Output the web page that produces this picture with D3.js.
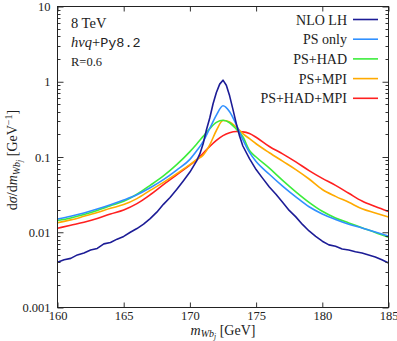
<!DOCTYPE html>
<html>
<head>
<meta charset="utf-8">
<script src="https://cdn.jsdelivr.net/npm/d3@7"></script>
<style>
  body { margin: 0; background: #fff; }
  svg text { font-family: 'Liberation Serif', 'DejaVu Serif', serif; fill: #222; }
</style>
</head>
<body>
<div id="chart"></div>
<script>
const width = 397, height = 341;
const margin = {top: 6.5, right: 8.5, bottom: 33.5, left: 57.5};
const SERIF = "'Liberation Serif', 'DejaVu Serif', serif";

// m_Wbj grid for the shower curves (GeV)
const mass = [160, 161, 162, 163, 164, 165, 166, 167, 168, 169, 170, 170.5, 171, 171.5, 172, 172.5,
              173, 173.5, 174, 174.5, 175, 176, 177, 178, 179, 180, 181, 182, 183, 184, 185];

const psOnly = [.0150, .0163, .0180, .0203, .0232, .0268, .0315, .0390, .0500, .0670, .0930, .120, .160, .240, .360, .480,
                .400, .270, .170, .115, .087, .059, .041, .0295, .0218, .0175, .0148, .0128, .0114, .0101, .0089];
const psHad = [.0143, .0155, .0172, .0195, .0225, .0258, .0320, .0420, .0560, .0790, .118, .148, .188, .238, .288, .308,
               .285, .235, .186, .122, .100, .071, .049, .0345, .0250, .0190, .0155, .0133, .0115, .0099, .0086];
const psMpi = [.0134, .0146, .0163, .0183, .0208, .0233, .0280, .0360, .0460, .0600, .0790, .0920, .106, .145, .225, .305,
               .292, .250, .205, .175, .150, .114, .088, .068, .051, .037, .030, .025, .0205, .018, .0159];
const psHadMpi = [.0113, .0124, .0136, .0152, .0175, .0198, .0240, .0315, .0430, .0580, .0780, .0910, .112, .138, .166, .192,
                  .210, .218, .216, .205, .183, .138, .110, .086, .066, .052, .042, .033, .026, .022, .0189];

// NLO LH has a finer (noisy) binning
const nloMass = [160, 160.5, 161, 161.5, 162, 162.5, 163, 163.5, 164, 164.5, 165, 165.5, 166, 166.5, 167, 167.5,
                 168, 168.5, 169, 169.5, 170, 170.5, 170.75, 171, 171.25, 171.5, 171.75, 172, 172.25, 172.5, 172.75,
                 173, 173.25, 173.5, 173.75, 174, 174.5, 175, 175.5, 176, 176.5, 177, 177.5, 178, 178.5, 179, 179.5,
                 180, 180.5, 181, 181.5, 182, 182.5, 183, 183.5, 184, 184.5, 185];
const nloLH = [.0040, .0043, .0045, .0050, .0053, .0058, .0061, .0070, .0073, .0081, .0088, .0100, .0112, .0128, .0152, .0185,
               .0235, .029, .037, .048, .063, .088, .110, .150, .230, .330, .510, .720, .930, 1.05, .900,
               .650, .430, .280, .190, .140, .095, .068, .052, .040, .032, .025, .0195, .016, .0127, .0104, .0088,
               .0076, .0068, .0065, .0060, .0058, .0055, .0053, .0050, .0047, .0043, .0039];

const seriesNames = ["NLO LH", "PS only", "PS+HAD", "PS+MPI", "PS+HAD+MPI"];
const seriesColors = ["#1c1c96", "#3090ff", "#3cec3c", "#ffaa00", "#ff2020"];

const xTicks = [160, 165, 170, 175, 180, 185];
const yTicks = [0.001, 0.01, 0.1, 1, 10];

let svg = d3.select("#chart")
    .append("svg")
    .attr("width", width)
    .attr("height", height)
    .attr("font-family", SERIF);

let x = d3.scaleLinear()
    .domain([160, 185])
    .range([margin.left, width - margin.right]);

let y = d3.scaleLog()
    .domain([0.001, 10])
    .range([height - margin.bottom, margin.top]);

// curves
let series = [
    {name: seriesNames[0], xs: nloMass, ys: nloLH, curve: d3.curveLinear},
    {name: seriesNames[1], xs: mass, ys: psOnly, curve: d3.curveMonotoneX},
    {name: seriesNames[2], xs: mass, ys: psHad, curve: d3.curveMonotoneX},
    {name: seriesNames[3], xs: mass, ys: psMpi, curve: d3.curveMonotoneX},
    {name: seriesNames[4], xs: mass, ys: psHadMpi, curve: d3.curveMonotoneX}
];

let plot = svg.append("g");
series.slice().reverse().forEach(function(s) {
    let i = seriesNames.indexOf(s.name);
    let line = d3.line()
        .x((d, k) => x(s.xs[k]))
        .y(d => y(d))
        .curve(s.curve);
    plot.append("path")
        .attr("d", line(s.ys))
        .attr("fill", "none")
        .attr("stroke", seriesColors[i])
        .attr("stroke-width", 1.6)
        .attr("stroke-linejoin", "round");
});

// axes (ticks point inward)
let bottomAxis = svg.append("g")
    .attr("transform", `translate(0, ${height - margin.bottom})`)
    .call(d3.axisBottom(x).tickValues(xTicks).tickSize(-5).tickPadding(4).tickFormat(d3.format("d")));
let topAxis = svg.append("g")
    .attr("transform", `translate(0, ${margin.top})`)
    .call(d3.axisTop(x).tickValues(xTicks).tickSize(-5).tickFormat(""));
let leftAxis = svg.append("g")
    .attr("transform", `translate(${margin.left}, 0)`)
    .call(d3.axisLeft(y).tickValues(yTicks).tickSize(-6).tickPadding(7)
        .tickFormat(d => d >= 1 ? d3.format("d")(d) : String(d)));
let rightAxis = svg.append("g")
    .attr("transform", `translate(${width - margin.right}, 0)`)
    .call(d3.axisRight(y).tickValues(yTicks).tickSize(-6).tickFormat(""));

[bottomAxis, topAxis, leftAxis, rightAxis].forEach(function(a) {
    a.attr("font-family", SERIF).attr("font-size", 12.5);
    a.select(".domain").remove();
    a.selectAll("line").attr("stroke", "#333");
    a.selectAll("text").attr("fill", "#222");
});

// minor log ticks
let minor = [];
for (let e = -3; e < 1; e++) {
    for (let m = 2; m <= 9; m++) minor.push(m * Math.pow(10, e));
}
svg.append("g").selectAll("line").data(minor).enter().append("line")
    .attr("x1", margin.left).attr("x2", margin.left + 3)
    .attr("y1", d => Math.round(y(d)) + 0.5).attr("y2", d => Math.round(y(d)) + 0.5)
    .attr("stroke", "#333");
svg.append("g").selectAll("line").data(minor).enter().append("line")
    .attr("x1", width - margin.right).attr("x2", width - margin.right - 3)
    .attr("y1", d => Math.round(y(d)) + 0.5).attr("y2", d => Math.round(y(d)) + 0.5)
    .attr("stroke", "#333");

// frame
svg.append("rect")
    .attr("x", margin.left)
    .attr("y", margin.top)
    .attr("width", width - margin.left - margin.right)
    .attr("height", height - margin.top - margin.bottom)
    .attr("fill", "none")
    .attr("stroke", "#222")
    .attr("stroke-width", 1);

// legend
let legend = svg.append("g");
seriesNames.forEach(function(name, i) {
    let ly = 19.5 + i * 19.7;
    legend.append("text")
        .attr("x", 347)
        .attr("y", ly + 5)
        .style("text-anchor", "end")
        .style("font-size", "14px")
        .text(name);
    legend.append("line")
        .attr("x1", 353).attr("x2", 378)
        .attr("y1", ly).attr("y2", ly)
        .attr("stroke", seriesColors[i])
        .attr("stroke-width", 1.6);
});

// annotations
svg.append("text")
    .attr("x", 71).attr("y", 28)
    .style("font-size", "14.5px")
    .text("8 TeV");

let gen = svg.append("text")
    .attr("x", 71).attr("y", 47)
    .style("font-size", "14.5px");
gen.append("tspan").style("font-style", "italic").text("hvq");
gen.append("tspan").text("+");
gen.append("tspan").style("font-family", "'Liberation Mono', monospace").style("font-size", "13.5px").text("Py8.2");

svg.append("text")
    .attr("x", 71).attr("y", 66)
    .style("font-size", "12.5px")
    .text("R=0.6");

// x label
let xl = svg.append("text")
    .attr("x", 223).attr("y", 335)
    .style("text-anchor", "middle")
    .style("font-size", "14px");
xl.append("tspan").style("font-style", "italic").text("m");
xl.append("tspan").attr("dy", 2).style("font-style", "italic").style("font-size", "10px").text("Wb");
xl.append("tspan").attr("dy", 2).style("font-style", "italic").style("font-size", "7.5px").text("j");
xl.append("tspan").attr("dy", -4).text(" [GeV]");

// y label
let yl = svg.append("text")
    .attr("transform", "translate(17, 160) rotate(-90)")
    .style("text-anchor", "middle")
    .style("font-size", "14px");
yl.append("tspan").text("d");
yl.append("tspan").style("font-style", "italic").text("σ");
yl.append("tspan").text("/d");
yl.append("tspan").style("font-style", "italic").text("m");
yl.append("tspan").attr("dy", 3).style("font-style", "italic").style("font-size", "10px").text("Wb");
yl.append("tspan").attr("dy", 2).style("font-style", "italic").style("font-size", "7.5px").text("j");
yl.append("tspan").attr("dy", -5).text(" [GeV");
yl.append("tspan").attr("dy", -5).style("font-size", "10px").text("−1");
yl.append("tspan").attr("dy", 5).text("]");
</script>
</body>
</html>
